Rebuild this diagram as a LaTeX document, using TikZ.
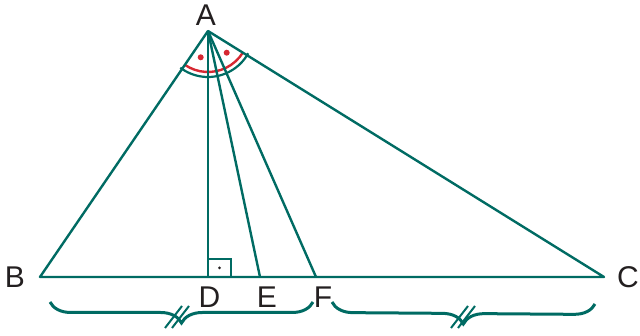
\documentclass[tikz,border=0pt]{standalone}
\usepackage{fontspec}
\setmainfont{Liberation Sans}
\usetikzlibrary{decorations.pathreplacing}
\definecolor{teal1}{RGB}{0,107,99}
\definecolor{red1}{RGB}{214,40,50}
\definecolor{ink}{RGB}{35,31,32}
\begin{document}
\begin{tikzpicture}[x=1pt,y=1pt,
  seg/.style={draw=teal1,line width=2.4pt,line join=round},
  lbl/.style={text=ink,font=\fontsize{30}{36}\selectfont,inner sep=0pt},
  bracestyle/.style={draw=teal1,line width=3pt,decorate,decoration={brace,mirror,amplitude=21pt,aspect=0.5}},
  tick/.style={draw=teal1,line width=2pt}]
\useasboundingbox (0,0) rectangle (640,336);
\coordinate (A) at (208,305);
\coordinate (B) at (40,59);
\coordinate (C) at (604,59);
\coordinate (D) at (208,59);
\coordinate (E) at (260,59);
\coordinate (F) at (316,59);
% angle marks
\draw[draw=teal1,line width=2.2pt] ([shift={(233:46)}]A) arc[start angle=233,end angle=331,radius=46];
\draw[draw=red1,line width=2.4pt] ([shift={(236:41)}]A) arc[start angle=236,end angle=328,radius=41];
\fill[red1] (200.7,278.7) circle (3);
\fill[red1] (226.7,283.3) circle (3);
% triangle and cevians
\draw[seg] (B) -- (C) -- (A) -- cycle;
\draw[seg] (A) -- (D);
\draw[seg] (A) -- (E);
\draw[seg] (A) -- (F);
% right angle
\draw[draw=teal1,line width=1.5pt] (208,77) -- (231,77) -- (231,59);
\fill[ink] (219.5,68) circle (1.5);
% labels
\node[lbl] (lA) at (206,321) {A};
\node[lbl] (lB) at (15,59) {B};
\node[lbl] (lC) at (628,59) {C};
\node[lbl] (lD) at (209.5,39) {D};
\node[lbl] (lE) at (267,39) {E};
\node[lbl] (lF) at (323,39) {F};
% braces
\coordinate (b1s) at (50,34);
\coordinate (b1e) at (313,34);
\coordinate (b2s) at (332,34);
\coordinate (b2e) at (595,32);
\draw[bracestyle] (b1s) -- (b1e);
\draw[bracestyle] (b2s) -- (b2e);
\draw[tick] (165,8) -- (182,30);
\draw[tick] (172,8) -- (189,30);
\draw[tick] (451,8) -- (468,30);
\draw[tick] (458,8) -- (475,30);
\end{tikzpicture}
\end{document}
